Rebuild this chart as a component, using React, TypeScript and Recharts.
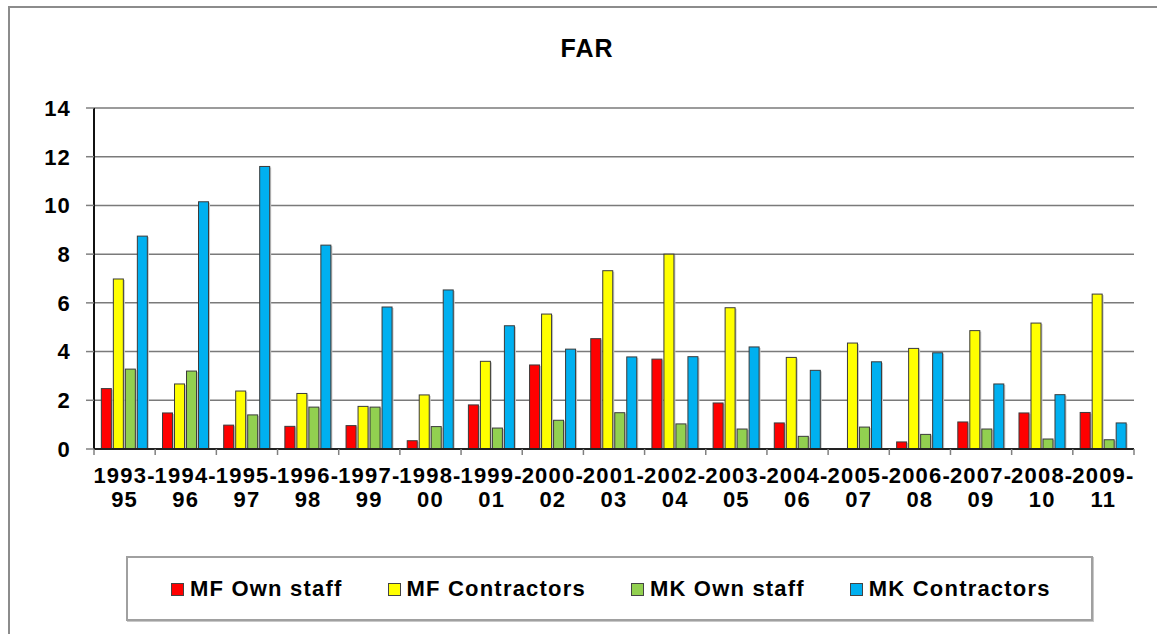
import React from "react";
import {
  BarChart,
  Bar,
  XAxis,
  YAxis,
  CartesianGrid,
} from "recharts";

const periods = [
  "1993-95", "1994-96", "1995-97", "1996-98", "1997-99", "1998-00",
  "1999-01", "2000-02", "2001-03", "2002-04", "2003-05", "2004-06",
  "2005-07", "2006-08", "2007-09", "2008-10", "2009-11",
];

const mfOwnStaff = [2.48, 1.48, 0.98, 0.93, 0.96, 0.34, 1.81, 3.45, 4.53, 3.69, 1.89, 1.07, 0, 0.29, 1.11, 1.48, 1.5];
const mfContractors = [6.98, 2.67, 2.38, 2.28, 1.75, 2.22, 3.6, 5.54, 7.32, 8.0, 5.8, 3.76, 4.35, 4.13, 4.86, 5.17, 6.36];
const mkOwnStaff = [3.28, 3.2, 1.4, 1.72, 1.72, 0.92, 0.86, 1.18, 1.49, 1.03, 0.82, 0.52, 0.9, 0.6, 0.82, 0.41, 0.38];
const mkContractors = [8.74, 10.15, 11.6, 8.37, 5.83, 6.53, 5.06, 4.1, 3.78, 3.79, 4.19, 3.23, 3.58, 3.95, 2.67, 2.23, 1.07];

const yTicks = [0, 2, 4, 6, 8, 10, 12, 14];

const series = [
  { key: "mfOwn", label: "MF Own staff", color: "#FF0000", values: mfOwnStaff },
  { key: "mfCon", label: "MF Contractors", color: "#FFFF00", values: mfContractors },
  { key: "mkOwn", label: "MK Own staff", color: "#92D050", values: mkOwnStaff },
  { key: "mkCon", label: "MK Contractors", color: "#00B0F0", values: mkContractors },
];

const data = periods.map((period, i) => {
  const row: Record<string, string | number> = { period };
  series.forEach((s) => {
    row[s.key] = s.values[i];
  });
  return row;
});

const FONT = '"Liberation Sans", Arial, sans-serif';

function ShadowBar(props: any) {
  const { x, y, width, height, fill } = props;
  if (!height || height <= 0) return null;
  return (
    <g>
      <rect x={x + 1.5} y={y + 1} width={width} height={height - 1} fill="#c8c8c8" />
      <rect x={x} y={y} width={width} height={height} fill={fill} stroke="#3a3a3a" strokeWidth={1} />
    </g>
  );
}

function PeriodTick(props: any) {
  const { x, y, payload, index, visibleTicksCount, width } = props;
  const half = payload?.offset ?? width / visibleTicksCount / 2;
  const [first, second] = String(payload.value).split("-");
  const isLast = index === visibleTicksCount - 1;
  return (
    <g>
      <line x1={x - half} x2={x - half} y1={y} y2={y + 6} stroke="#808080" strokeWidth={1.5} />
      {isLast && (
        <line x1={x + half} x2={x + half} y1={y} y2={y + 6} stroke="#808080" strokeWidth={1.5} />
      )}
      <text
        x={x}
        y={y + 34}
        textAnchor="middle"
        fontFamily={FONT}
        fontWeight="bold"
        fontSize={22}
        letterSpacing={1.2}
        fill="#000"
      >
        {first + "-"}
      </text>
      <text
        x={x}
        y={y + 58}
        textAnchor="middle"
        fontFamily={FONT}
        fontWeight="bold"
        fontSize={22}
        letterSpacing={1.2}
        fill="#000"
      >
        {second}
      </text>
    </g>
  );
}

export default function App() {
  return (
    <div
      style={{
        position: "absolute",
        left: 0,
        top: 0,
        width: 1157,
        height: 634,
        overflow: "hidden",
        background: "#fff",
        fontFamily: FONT,
      }}
    >
      <div
        style={{
          position: "absolute",
          left: 8,
          top: 6,
          width: 1300,
          height: 800,
          borderTop: "2px solid #8c8c8c",
          borderLeft: "2px solid #8c8c8c",
        }}
      />
      <div
        style={{
          position: "absolute",
          left: 0,
          width: 1174,
          top: 33,
          textAlign: "center",
          fontWeight: "bold",
          fontSize: 25,
          letterSpacing: 1,
          lineHeight: "30px",
        }}
      >
        FAR
      </div>
      <div style={{ position: "absolute", left: 0, top: 0 }}>
        <BarChart
          width={1157}
          height={634}
          data={data}
          margin={{ top: 108, right: 23, bottom: 125, left: 0 }}
          barCategoryGap="12%"
          barGap={2}
        >
          <CartesianGrid vertical={false} stroke="#7a7a7a" strokeWidth={1.5} />
          <XAxis
            dataKey="period"
            height={60}
            tickLine={false}
            tickSize={0}
            tickMargin={0}
            interval={0}
            axisLine={{ stroke: "#222", strokeWidth: 2 }}
            tick={<PeriodTick />}
          />
          <YAxis
            width={94}
            domain={[0, 14]}
            ticks={yTicks}
            interval={0}
            tickSize={8}
            tickMargin={15}
            tickLine={{ stroke: "#808080", strokeWidth: 1.5 }}
            axisLine={{ stroke: "#111", strokeWidth: 2 }}
            tick={{ fill: "#000", fontFamily: FONT, fontWeight: "bold", fontSize: 22, letterSpacing: 1.2 }}
          />
          <YAxis
            yAxisId="frame"
            orientation="right"
            width={0}
            domain={[0, 14]}
            tick={false}
            tickLine={false}
            axisLine={{ stroke: "#9a9a9a", strokeWidth: 2.5 }}
          />
          {series.map((s) => (
            <Bar
              key={s.key}
              dataKey={s.key}
              name={s.label}
              fill={s.color}
              shape={<ShadowBar />}
              isAnimationActive={false}
            />
          ))}
        </BarChart>
      </div>
      <div
        style={{
          position: "absolute",
          left: 126,
          top: 556,
          width: 967,
          height: 65,
          border: "2px solid #a0a0a0",
          display: "flex",
          alignItems: "center",
          paddingLeft: 43,
          gap: 45,
          boxSizing: "border-box",
          boxShadow: "1px 1px 0 #c8c8c8",
        }}
      >
        {series.map((s) => (
          <div key={s.key} style={{ display: "flex", alignItems: "center" }}>
            <span
              style={{
                display: "inline-block",
                width: 11,
                height: 11,
                background: s.color,
                border: "1px solid #444",
                marginRight: 6,
                marginTop: 2,
              }}
            />
            <span
              style={{
                fontWeight: "bold",
                fontSize: 22,
                letterSpacing: 1.2,
                lineHeight: "26px",
                whiteSpace: "nowrap",
              }}
            >
              {s.label}
            </span>
          </div>
        ))}
      </div>
    </div>
  );
}
